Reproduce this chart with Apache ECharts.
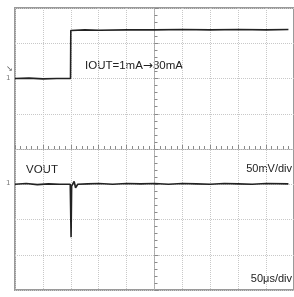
<!DOCTYPE html>
<html>
<head>
<meta charset="utf-8">
<script src="https://cdn.jsdelivr.net/npm/echarts@6/dist/echarts.min.js"></script>
<style>
  html, body { margin: 0; padding: 0; background: #fff; }
  #chart { width: 294px; height: 297px; }
</style>
</head>
<body>
<div id="chart"></div>
<script>
// scope traces, in screen divisions (centre of screen = 0,0)
const iout = [
  [-5, 2.0], [-4.5, 2.01], [-4, 1.99], [-3.5, 2.0], [-3.01, 2.0],
  [-3.0, 3.36], [-2.5, 3.38], [-2, 3.37], [-1, 3.38], [0, 3.38],
  [1, 3.39], [2, 3.38], [3, 3.39], [4, 3.38], [4.8, 3.39]
];
const vout = [
  [-5, -1.0], [-4.6, -0.98], [-4.2, -1.01], [-3.8, -0.99], [-3.4, -1.0], [-3.02, -1.0],
  [-3.0, -1.04], [-2.99, -2.5], [-2.97, -1.05], [-2.88, -0.92], [-2.83, -1.1],
  [-2.75, -1.0], [-2.4, -0.99], [-2, -0.98], [-1.5, -1.0], [-1, -0.98],
  [-0.5, -0.99], [0, -0.98], [0.5, -1.0], [1, -0.98], [1.5, -0.99],
  [2, -1.0], [2.5, -0.98], [3, -0.99], [3.5, -1.0], [4, -0.98], [4.8, -0.99]
];
const labels = {
  iout: 'IOUT=1mA',
  iout2: '30mA',
  vout: 'VOUT',
  vdiv: '50mV/div',
  tdiv: '50\u03bcs/div'
};

const myChart = echarts.init(document.getElementById('chart'));
const gridLine = { show: true, lineStyle: { color: '#c8c8c8', type: 'dotted', width: 1 } };
const centreAxis = {
  onZero: true,
  show: true,
  lineStyle: { color: '#aaa', type: 'dotted', width: 1 }
};
const tick = { show: true, inside: true, length: 4, lineStyle: { color: '#8a8a8a', width: 1 } };
const minor = { show: true, splitNumber: 5, length: 3, lineStyle: { color: '#8a8a8a', width: 1 } };
const option = {
  animation: false,
  grid: {
    left: 15, top: 8, right: -8, bottom: 7,
    show: true, borderColor: '#9a9a9a', borderWidth: 2
  },
  xAxis: {
    type: 'value', min: -5, max: 5, interval: 1,
    axisLine: centreAxis, axisTick: tick, minorTick: minor,
    axisLabel: { show: false },
    splitLine: gridLine
  },
  yAxis: {
    type: 'value', min: -4, max: 4, interval: 1,
    axisLine: centreAxis, axisTick: tick, minorTick: minor,
    axisLabel: { show: false },
    splitLine: gridLine
  },
  series: [
    {
      name: 'IOUT', type: 'line', data: iout, symbol: 'none', z: 5,
      lineStyle: { color: '#222', width: 1.6 }
    },
    {
      name: 'VOUT', type: 'line', data: vout, symbol: 'none', z: 5,
      lineStyle: { color: '#222', width: 1.6 }
    }
  ],
  graphic: [
    {
      type: 'text', left: 85, top: 60,
      style: {
        text: '{a|' + labels.iout + '}{b|\u2192}{a|' + labels.iout2 + '}',
        rich: {
          a: { font: '11.5px "Liberation Sans", Arial', fill: '#222' },
          b: { font: '12px "DejaVu Sans"', fill: '#222' }
        }
      }
    },
    { type: 'text', left: 26, top: 164, style: { text: labels.vout, font: '11.5px "Liberation Sans", Arial', fill: '#222' } },
    { type: 'text', right: 2, top: 163, style: { text: labels.vdiv, font: '11px "Liberation Sans", Arial', fill: '#222' } },
    { type: 'text', right: 2, top: 273, style: { text: labels.tdiv, font: '11px "Liberation Sans", Arial', fill: '#222' } },
    { type: 'text', left: 6, top: 65, style: { text: '\u2198', font: '8px "DejaVu Sans"', fill: '#555' } },
    { type: 'text', left: 6, top: 75, style: { text: '1', font: '7px "DejaVu Sans"', fill: '#777' } },
    { type: 'text', left: 6, top: 180, style: { text: '1', font: '7px "DejaVu Sans"', fill: '#777' } }
  ]
};
myChart.setOption(option);
</script>
</body>
</html>
